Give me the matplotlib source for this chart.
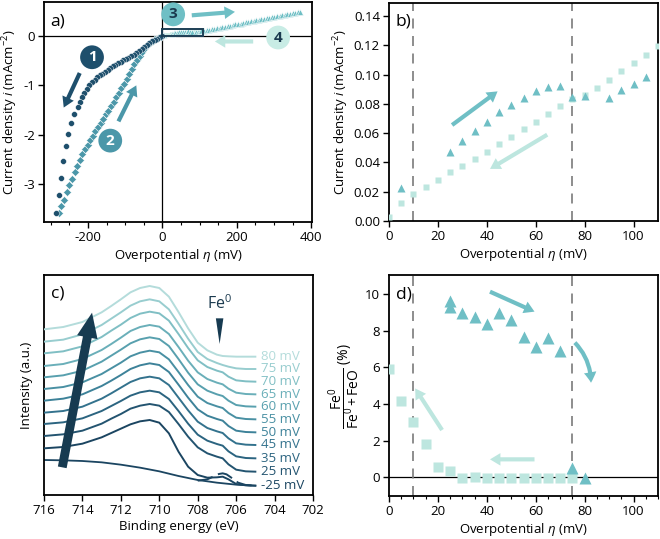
import matplotlib
matplotlib.use('Agg')
import matplotlib.pyplot as plt
from matplotlib.patches import Rectangle
from matplotlib.ticker import MultipleLocator

plt.rcParams['font.family'] = ['Open Sans', 'DejaVu Sans']
plt.rcParams['font.size'] = 9.5
plt.rcParams['axes.unicode_minus'] = False
plt.rcParams['mathtext.fontset'] = 'custom'
plt.rcParams['mathtext.rm'] = 'Open Sans'
plt.rcParams['mathtext.it'] = 'Open Sans:italic'
plt.rcParams['axes.linewidth'] = 1.3

# ---------------- data ----------------
# a) cathodic sweep (1) and return (2)
cv1_x = [0, -7, -14, -21, -28, -35, -42, -49, -56, -63, -70, -77, -84, -91, -98, -105, -112, -119,
         -126, -133, -140, -147, -154, -161, -168, -175, -182, -189, -196, -203, -210, -216, -221,
         -228, -237, -245, -253, -259, -266, -272, -279, -286]
cv1_y = [0.0, -0.02, -0.05, -0.08, -0.11, -0.15, -0.19, -0.23, -0.27, -0.31, -0.35, -0.38, -0.41,
         -0.44, -0.46, -0.49, -0.52, -0.55, -0.58, -0.61, -0.65, -0.68, -0.72, -0.76, -0.80, -0.84,
         -0.89, -0.94, -1.00, -1.07, -1.15, -1.24, -1.33, -1.44, -1.59, -1.77, -1.98, -2.23, -2.53,
         -2.88, -3.23, -3.58]
cv2_x = [-278, -271, -264, -257, -250, -243, -236, -229, -222, -215, -208, -201, -194, -187, -180,
         -173, -166, -159, -152, -145, -138, -131, -124, -117, -110, -103, -96, -89, -82, -75, -68,
         -61, -54, -47, -40, -33, -26, -19, -12, -5]
cv2_y = [-3.58, -3.45, -3.32, -3.17, -3.03, -2.89, -2.76, -2.64, -2.52, -2.40, -2.30, -2.20, -2.11,
         -2.02, -1.93, -1.85, -1.77, -1.68, -1.59, -1.51, -1.42, -1.33, -1.24, -1.15, -1.06, -0.97,
         -0.87, -0.77, -0.67, -0.57, -0.48, -0.40, -0.32, -0.25, -0.19, -0.14, -0.10, -0.06, -0.03,
         -0.01]
# anodic sweep (3) beyond the zoomed window
cv3_ext_x = [112, 119, 126, 133, 140, 147, 154, 161, 168, 175, 182, 189, 196, 203, 210, 217, 224,
             231, 238, 245, 252, 259, 266, 273, 280, 287, 294, 301, 308, 315, 322, 329, 336, 343,
             350, 357, 364, 371]
cv3_ext_y = [0.110, 0.121, 0.131, 0.141, 0.151, 0.162, 0.172, 0.182, 0.193, 0.203, 0.213, 0.223,
             0.234, 0.244, 0.254, 0.265, 0.275, 0.285, 0.296, 0.306, 0.316, 0.326, 0.337, 0.347,
             0.357, 0.368, 0.378, 0.388, 0.399, 0.409, 0.419, 0.430, 0.440, 0.450, 0.460, 0.471,
             0.481, 0.491]

# b) zoom of sweeps 3 (triangles) and 4 (squares)
tri_b_x = [5, 25, 30, 35, 40, 45, 50, 55, 60, 65, 70, 75, 80, 90, 95, 100, 105]
tri_b_y = [0.0224, 0.047, 0.055, 0.0617, 0.068, 0.0742, 0.0795, 0.084, 0.0886, 0.0916, 0.092,
           0.085, 0.0857, 0.0838, 0.0893, 0.0939, 0.0984]
sq_b_x = [0, 5, 10, 15, 20, 25, 30, 35, 40, 45, 50, 55, 60, 65, 70, 75, 80, 85, 90, 95, 100, 105, 110]
sq_b_y = [0.003, 0.0126, 0.0185, 0.0235, 0.0281, 0.0333, 0.0379, 0.0425, 0.047, 0.0523, 0.0573,
          0.0626, 0.0678, 0.0731, 0.0783, 0.0834, 0.0861, 0.0907, 0.0962, 0.1023, 0.108, 0.1137,
          0.1195]

# c) Fe 2p spectra (stacked, a.u.)
be = [716, 715, 714, 713, 712.5, 712, 711.5, 711, 710.5, 710, 709.5, 709, 708.5, 708, 707.5, 707,
      706.7, 706.4, 706, 705.5, 705]
spec_labels = ['-25 mV', '25 mV', '35 mV', '45 mV', '50 mV', '55 mV', '60 mV', '65 mV', '70 mV',
               '75 mV', '80 mV']
s_m25 = [1.35, 1.39, 1.49, 1.68, 1.81, 1.94, 2.07, 2.16, 2.20, 2.12, 1.80, 1.25, 0.80, 0.55, 0.47, 0.48, 0.50, 0.42, 0.28, 0.24, 0.23]
s_25 = [1.72, 1.77, 1.88, 2.09, 2.24, 2.38, 2.54, 2.63, 2.68, 2.63, 2.44, 2.08, 1.70, 1.38, 1.20, 1.10, 1.05, 0.87, 0.71, 0.66, 0.65]
s_35 = [2.08, 2.13, 2.25, 2.47, 2.62, 2.77, 2.93, 3.03, 3.08, 3.03, 2.83, 2.47, 2.09, 1.76, 1.58, 1.48, 1.43, 1.26, 1.11, 1.06, 1.05]
s_45 = [2.42, 2.47, 2.60, 2.84, 3.00, 3.17, 3.34, 3.45, 3.50, 3.45, 3.25, 2.87, 2.49, 2.15, 1.96, 1.86, 1.81, 1.65, 1.50, 1.46, 1.45]
s_50 = [2.78, 2.84, 2.97, 3.22, 3.38, 3.55, 3.73, 3.84, 3.90, 3.85, 3.64, 3.26, 2.87, 2.52, 2.33, 2.23, 2.18, 2.02, 1.88, 1.84, 1.83]
s_55 = [3.13, 3.19, 3.33, 3.58, 3.75, 3.92, 4.11, 4.22, 4.28, 4.23, 4.02, 3.64, 3.25, 2.90, 2.71, 2.61, 2.56, 2.41, 2.27, 2.23, 2.22]
s_60 = [3.48, 3.54, 3.68, 3.95, 4.13, 4.31, 4.50, 4.62, 4.68, 4.63, 4.42, 4.03, 3.62, 3.27, 3.08, 2.97, 2.92, 2.78, 2.65, 2.61, 2.60]
s_65 = [3.82, 3.88, 4.03, 4.30, 4.48, 4.67, 4.87, 4.99, 5.05, 5.00, 4.78, 4.39, 3.98, 3.63, 3.43, 3.32, 3.27, 3.14, 3.02, 2.98, 2.97]
s_70 = [4.20, 4.26, 4.41, 4.69, 4.88, 5.06, 5.26, 5.39, 5.45, 5.40, 5.18, 4.78, 4.36, 3.99, 3.79, 3.68, 3.63, 3.50, 3.39, 3.36, 3.35]
s_75 = [4.55, 4.61, 4.77, 5.05, 5.24, 5.43, 5.63, 5.76, 5.82, 5.76, 5.52, 5.09, 4.64, 4.24, 4.03, 3.91, 3.85, 3.80, 3.75, 3.73, 3.73]
s_80 = [4.92, 4.99, 5.14, 5.43, 5.62, 5.82, 6.03, 6.16, 6.22, 6.16, 5.90, 5.44, 4.95, 4.52, 4.29, 4.16, 4.12, 4.11, 4.10, 4.10, 4.10]
bkg_x = [716, 715, 714, 713, 712, 711, 710, 709, 708, 707, 706, 705]
bkg_y = [1.00, 0.99, 0.97, 0.93, 0.86, 0.77, 0.66, 0.52, 0.40, 0.32, 0.26, 0.23]
fe0_x = [708, 707.5, 707.2, 706.9, 706.7, 706.5, 706.2, 705.9, 705.5, 705]
fe0_y = [0.38, 0.42, 0.50, 0.58, 0.60, 0.57, 0.45, 0.32, 0.25, 0.23]

# d) Fe0 fraction
tri_d_x = [25, 25, 30, 35, 40, 45, 50, 55, 60, 65, 70, 75, 80]
tri_d_y = [9.6, 9.3, 8.95, 8.73, 8.35, 8.95, 8.58, 7.67, 7.09, 7.58, 6.91, 0.49, -0.05]
sq_d_x = [0, 5, 10, 15, 20, 25, 30, 35, 40, 45, 50, 55, 60, 65, 70, 75]
sq_d_y = [5.9, 4.16, 3.04, 1.8, 0.55, 0.36, -0.05, 0.02, -0.03, -0.03, -0.03, -0.03, -0.03, -0.03,
          -0.03, -0.03]

# ---------------- style ----------------
C1 = '#1e4f6c'
C2 = '#4b97a9'
C3 = '#6fbfc5'
C4 = '#bde6df'
DARK = '#173b51'
spec_colors = ['#1b4561', '#235470', '#2b6480', '#33728d', '#3d8299', '#4990a3', '#58a0ae',
               '#6aafb9', '#80bfc4', '#98cdcf', '#b4dcdb']


def arrow(ax, tail, head, color, ms=15, rad=0.0, tw=0.2, hw=0.6, hl=0.5):
    ax.annotate('', xy=head, xytext=tail,
                arrowprops=dict(arrowstyle='simple,head_length=%g,head_width=%g,tail_width=%g' % (hl, hw, tw),
                                fc=color, ec='none', mutation_scale=ms, shrinkA=0, shrinkB=0,
                                connectionstyle='arc3,rad=%g' % rad))


def badge(ax, x, y, s, fc, tc):
    ax.text(x, y, s, ha='center', va='center', fontsize=11, fontweight='bold', color=tc,
            bbox=dict(boxstyle='circle,pad=0.32', fc=fc, ec='none'), zorder=6)


fig = plt.figure(figsize=(6.6, 5.39), dpi=100)
W, H = 660.0, 539.0
axa = fig.add_axes([44 / W, 1 - 222 / H, 268 / W, 220 / H])
axb = fig.add_axes([389 / W, 1 - 221 / H, 269 / W, 218 / H])
axc = fig.add_axes([44 / W, 1 - 495 / H, 269 / W, 220 / H])
axd = fig.add_axes([389 / W, 1 - 496 / H, 269 / W, 221 / H])

# ---- a ----
axa.axhline(0, color='black', lw=0.9, zorder=1)
axa.axvline(0, color='black', lw=0.9, zorder=1)
axa.plot(sq_b_x, sq_b_y, 's', color=C4, ms=3.5, mec='white', mew=0.3, zorder=2)
axa.plot(tri_b_x + cv3_ext_x, tri_b_y + cv3_ext_y, '^', color=C3, ms=5, mec='white', mew=0.4, zorder=3)
axa.plot(cv2_x, cv2_y, 'D', color=C2, ms=3.8, mec='white', mew=0.4, zorder=3)
axa.plot(cv1_x, cv1_y, 'o', color=C1, ms=4.2, mec='white', mew=0.3, zorder=4)
axa.add_patch(Rectangle((0, 0), 110, 0.15, fill=False, ec='#1d3f55', lw=1.4, zorder=5))
arrow(axa, (-222, -0.75), (-265, -1.45), C1)
arrow(axa, (-118, -1.73), (-70, -1.0), C2)
arrow(axa, (79, 0.42), (195, 0.49), C3)
arrow(axa, (244, -0.11), (141, -0.11), C4)
badge(axa, -189, -0.43, '1', C1, 'white')
badge(axa, -140, -2.12, '2', C2, 'white')
badge(axa, 29, 0.44, '3', C3, '#1b3a4f')
badge(axa, 311, -0.03, '4', '#c8ece5', '#1b3a4f')
axa.set_xlim(-318, 402)
axa.set_ylim(-3.77, 0.69)
axa.set_xticks([-200, 0, 200, 400])
axa.xaxis.set_minor_locator(MultipleLocator(50))
axa.set_yticks([-3, -2, -1, 0])
axa.set_xlabel(r'Overpotential $\eta$ (mV)', labelpad=2)
axa.set_ylabel(r'Current density $i$ (mAcm$^{-2}$)', labelpad=2)
axa.text(0.025, 0.95, 'a)', transform=axa.transAxes, fontsize=12.5, va='top')

# ---- b ----
for xv in [10, 75]:
    axb.axvline(xv, color='#7a7a7a', lw=1.2, dashes=(6, 4.5), zorder=1)
axb.plot(sq_b_x, sq_b_y, 's', color=C4, ms=5, mec='none', zorder=3)
axb.plot(tri_b_x, tri_b_y, '^', color=C3, ms=5.5, mec='none', zorder=3)
arrow(axb, (25.8, 0.0656), (44.4, 0.0886), C3)
arrow(axb, (64.7, 0.059), (41.3, 0.0356), C4)
axb.set_xlim(0, 110)
axb.set_ylim(0, 0.149)
axb.set_xticks([0, 20, 40, 60, 80, 100])
axb.set_yticks([0, 0.02, 0.04, 0.06, 0.08, 0.10, 0.12, 0.14])
axb.set_yticklabels(['0.00', '0.02', '0.04', '0.06', '0.08', '0.10', '0.12', '0.14'])
axb.set_xlabel(r'Overpotential $\eta$ (mV)', labelpad=2)
axb.set_ylabel(r'Current density $i$ (mAcm$^{-2}$)', labelpad=2)
axb.text(0.025, 0.95, 'b)', transform=axb.transAxes, fontsize=12.5, va='top')

# ---- c ----
spectra = [s_m25, s_25, s_35, s_45, s_50, s_55, s_60, s_65, s_70, s_75, s_80]
axc.plot(bkg_x, bkg_y, color=spec_colors[0], lw=1.3, zorder=2)
axc.plot(fe0_x, fe0_y, color=spec_colors[0], lw=1.4, dashes=(8, 3), zorder=2)
for s, lab, col in zip(spectra, spec_labels, spec_colors):
    axc.plot(be, s, color=col, lw=1.4, zorder=3)
    axc.text(704.7, s[-1], lab, color=col, fontsize=9.5, va='center', ha='left')
axc.annotate('', xy=(713.5, 5.42), xytext=(715.05, 0.78),
             arrowprops=dict(arrowstyle='simple,head_length=0.9,head_width=0.75,tail_width=0.32',
                             fc=DARK, ec='none', mutation_scale=20, shrinkA=0, shrinkB=0), zorder=6)
axc.annotate('', xy=(706.86, 4.48), xytext=(706.86, 5.25),
             arrowprops=dict(arrowstyle='wedge,tail_width=0.45,shrink_factor=0.5',
                             fc=DARK, ec='none', mutation_scale=12, shrinkA=0, shrinkB=0))
axc.text(706.86, 5.7, r'Fe$^0$', ha='center', va='center', fontsize=11.5, color='#1b3a4f')
axc.set_xlim(716, 702)
axc.set_ylim(-0.05, 6.55)
axc.set_xticks([716, 714, 712, 710, 708, 706, 704, 702])
axc.set_yticks([])
axc.set_xlabel('Binding energy (eV)', labelpad=2)
axc.set_ylabel('Intensity (a.u.)', labelpad=8)
axc.text(0.025, 0.95, 'c)', transform=axc.transAxes, fontsize=12.5, va='top')

# ---- d ----
axd.axhline(0, color='black', lw=0.9, zorder=1)
for xv in [10, 75]:
    axd.axvline(xv, color='#7a7a7a', lw=1.2, dashes=(6, 4.5), zorder=1)
axd.plot(sq_d_x, sq_d_y, 's', color=C4, ms=7, mec='none', zorder=3)
axd.plot(tri_d_x, tri_d_y, '^', color=C3, ms=8, mec='none', zorder=4)
arrow(axd, (41.3, 10.13), (59.5, 9.04), C3)
arrow(axd, (76, 7.35), (82.6, 5.16), C3, rad=-0.2)
arrow(axd, (21.7, 2.58), (10.7, 4.85), C4)
arrow(axd, (59.5, 0.98), (41.3, 0.98), C4)
axd.set_xlim(0, 110)
axd.set_ylim(-1.02, 11.04)
axd.set_xticks([0, 20, 40, 60, 80, 100])
axd.xaxis.set_minor_locator(MultipleLocator(5))
axd.set_yticks([0, 2, 4, 6, 8, 10])
axd.set_xlabel(r'Overpotential $\eta$ (mV)', labelpad=2)
axd.set_ylabel(r'$\dfrac{\mathrm{Fe}^0}{\mathrm{Fe}^0+\mathrm{FeO}}$ (%)', labelpad=2, fontsize=10)
axd.text(0.025, 0.95, 'd)', transform=axd.transAxes, fontsize=12.5, va='top')

for ax in [axa, axb, axc, axd]:
    ax.tick_params(which='major', length=4, width=1, pad=2.5)
    ax.tick_params(which='minor', length=2.5, width=0.8)

fig.savefig('out.png', dpi=100)
